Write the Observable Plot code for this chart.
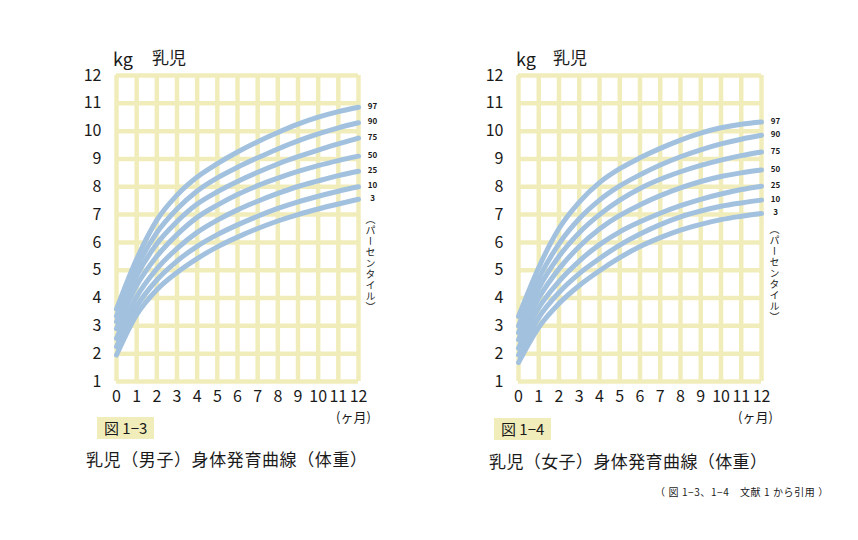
<!DOCTYPE html>
<html><head><meta charset="utf-8">
<script src="https://cdn.jsdelivr.net/npm/d3@7"></script>
<script src="https://cdn.jsdelivr.net/npm/@observablehq/plot@0.6"></script>
<style>
html,body{margin:0;padding:0;background:#fff;}
body{width:858px;height:540px;position:relative;overflow:hidden;font-family:"Noto Sans CJK JP","Noto Sans",sans-serif;color:#1a1a1a;}
.abs{position:absolute;white-space:nowrap;line-height:1;}
.box{position:absolute;background:#f1edbb;font-size:15px;line-height:22px;padding:0 7px;}
.vert{position:absolute;writing-mode:vertical-rl;font-size:10px;line-height:1;letter-spacing:1px;}
</style></head>
<body>
<div id="left" class="abs" style="left:78px;top:50px;"></div>
<div id="right" class="abs" style="left:480px;top:50px;"></div>

<div class="abs" style="left:113px;top:49px;font-size:18px;">kg</div>
<div class="abs" style="left:152px;top:48px;font-size:17px;">乳児</div>
<div class="abs" style="left:516px;top:49px;font-size:18px;">kg</div>
<div class="abs" style="left:553px;top:48px;font-size:17px;">乳児</div>

<div class="abs" style="left:336px;top:410px;font-size:13px;">(ヶ月)</div>
<div class="abs" style="left:738px;top:410px;font-size:13px;">(ヶ月)</div>

<div class="vert" style="left:365px;top:214px;">（パーセンタイル）</div>
<div class="vert" style="left:769px;top:224px;">（パーセンタイル）</div>

<div class="box" style="left:97px;top:417px;">図 1−3</div>
<div class="box" style="left:494px;top:418px;">図 1−4</div>

<div class="abs" style="left:86px;top:450px;font-size:17px;letter-spacing:0.6px;">乳児（男子）身体発育曲線（体重）</div>
<div class="abs" style="left:489px;top:452px;font-size:17px;letter-spacing:0.4px;">乳児（女子）身体発育曲線（体重）</div>

<div class="abs" style="left:655px;top:487px;font-size:10px;letter-spacing:0.6px;">（ 図 1−3、1−4　文献 1 から引用 ）</div>

<script>
const months = [0,1,2,3,4,5,6,7,8,9,10,11,12];
const yTicks = [1,2,3,4,5,6,7,8,9,10,11,12];
const percentiles = ["97","90","75","50","25","10","3"];

// 男子 (boys) weight, kg
const boysP97 = [3.60,5.40,6.80,7.70,8.35,8.83,9.25,9.62,9.95,10.25,10.50,10.70,10.86];
const boysP90 = [3.35,5.10,6.35,7.20,7.85,8.32,8.70,9.04,9.36,9.65,9.90,10.12,10.30];
const boysP75 = [3.15,4.80,5.95,6.75,7.38,7.82,8.19,8.52,8.82,9.08,9.32,9.54,9.75];
const boysP50 = [2.90,4.45,5.50,6.28,6.90,7.34,7.72,8.04,8.31,8.55,8.76,8.94,9.10];
const boysP25 = [2.55,4.05,5.05,5.78,6.36,6.80,7.17,7.48,7.76,8.01,8.21,8.40,8.56];
const boysP10 = [2.25,3.70,4.65,5.33,5.86,6.28,6.63,6.94,7.22,7.46,7.66,7.84,8.00];
const boysP3  = [1.95,3.40,4.30,4.92,5.42,5.84,6.19,6.50,6.77,7.00,7.20,7.38,7.55];

// 女子 (girls) weight, kg
const girlsP97 = [3.34,5.10,6.50,7.45,8.15,8.65,9.04,9.38,9.68,9.93,10.12,10.25,10.33];
const girlsP90 = [3.00,4.70,5.95,6.85,7.52,8.03,8.43,8.78,9.08,9.33,9.54,9.71,9.85];
const girlsP75 = [2.75,4.35,5.50,6.35,7.00,7.52,7.94,8.27,8.54,8.77,8.96,9.12,9.25];
const girlsP50 = [2.50,4.00,5.05,5.85,6.48,6.97,7.35,7.68,7.96,8.19,8.37,8.50,8.60];
const girlsP25 = [2.20,3.65,4.60,5.33,5.92,6.38,6.74,7.05,7.32,7.55,7.74,7.90,8.02];
const girlsP10 = [1.95,3.30,4.20,4.88,5.42,5.90,6.30,6.64,6.92,7.13,7.30,7.42,7.52];
const girlsP3  = [1.68,2.95,3.80,4.45,4.98,5.45,5.85,6.17,6.44,6.65,6.82,6.94,7.04];

const gridColor = "#f1edbb";
const curveColor = "#a2c1df";

function longTable(series) {
  const rows = [];
  series.forEach((vals, i) => vals.forEach((w, j) => rows.push({p: percentiles[i], month: months[j], w})));
  return rows;
}

function chart(series, opts) {
  const data = longTable(series);
  const ends = data.filter(d => d.month === 12);
  return Plot.plot({
    width: 330, height: 400,
    marginLeft: opts.ml, marginRight: opts.mr, marginTop: 25, marginBottom: 69,
    x: {domain: [0, 12]},
    y: {domain: [1, 12]},
    style: {fontFamily: "'Noto Sans CJK JP','Noto Sans',sans-serif", fontSize: "16px", color: "#1a1a1a", background: "transparent", overflow: "visible"},
    marks: [
      Plot.gridX(months, {stroke: gridColor, strokeWidth: 4.5, strokeOpacity: 1}),
      Plot.gridY(yTicks, {stroke: gridColor, strokeWidth: 4.5, strokeOpacity: 1}),
      Plot.line(data, {x: "month", y: "w", z: "p", stroke: curveColor, strokeWidth: 5, curve: "monotone-x", strokeLinecap: "round"}),
      Plot.text(ends, {x: "month", y: "w", text: "p", dx: 14, dy: -1, fontSize: 8, fontWeight: "bold", fill: "#1a1a1a"}),
      Plot.axisX(months, {tickSize: 0, tickPadding: 9, fontSize: 16, label: null}),
      Plot.axisY(yTicks, {tickSize: 0, tickPadding: 15, fontSize: 16, label: null})
    ]
  });
}

document.getElementById("left").append(chart([boysP97,boysP90,boysP75,boysP50,boysP25,boysP10,boysP3], {ml: 38, mr: 50}));
document.getElementById("right").append(chart([girlsP97,girlsP90,girlsP75,girlsP50,girlsP25,girlsP10,girlsP3], {ml: 38, mr: 49}));
</script>
</body></html>
